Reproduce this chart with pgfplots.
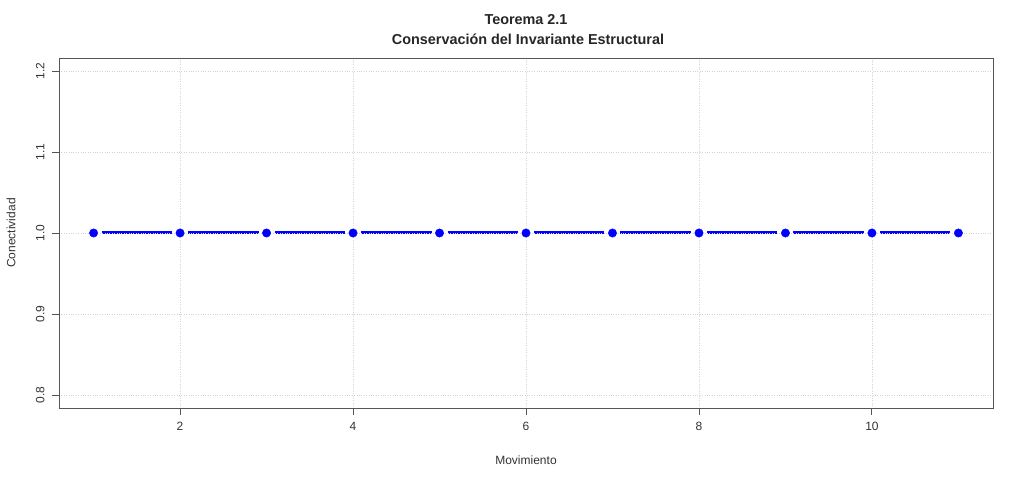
\documentclass[border=0pt]{standalone}
\usepackage{fontspec}
\setmainfont{Liberation Sans}
\usepackage{pgfplots}
\pgfplotsset{compat=1.18}
\definecolor{axgray}{HTML}{555555}
\definecolor{txtgray}{HTML}{333333}
\definecolor{gridgray}{HTML}{D3D3D3}
\begin{document}
\begin{tikzpicture}[x=1pt,y=1pt]
\path[use as bounding box] (0,0) rectangle (1024,481);
\begin{axis}[
  at={(59pt,73pt)}, anchor=south west,
  scale only axis, width=934pt, height=350pt,
  xmin=0.6, xmax=11.4, ymin=0.784, ymax=1.216,
  xtick={2,4,6,8,10}, ytick={0.8,0.9,1.0,1.1,1.2},
  yticklabels={0.8,0.9,1.0,1.1,1.2},
  tick align=outside, tick pos=left,
  major tick length=7pt,
  axis line style={axgray, line width=0.9pt},
  every tick/.style={axgray, line width=0.9pt},
  ticklabel style={font=\fontsize{12}{14}\selectfont, text=txtgray},
  yticklabel style={rotate=90, anchor=south, yshift=4pt},
  xticklabel style={yshift=-4pt},
  /pgf/number format/assume math mode=true,
  grid=major,
  grid style={dotted, gridgray, line width=0.7pt},
  axis on top=true,
  clip=false,
]
\pgfplotsinvokeforeach{1,...,10}{
\addplot[blue, line width=3pt, shorten <=8pt, shorten >=8pt, forget plot]
  coordinates {(#1,1) (#1+1,1)};
}
\addplot[only marks, mark=*, mark size=4.2pt,
  mark options={solid, fill=blue, draw=blue}]
  coordinates {(1,1) (2,1) (3,1) (4,1) (5,1) (6,1) (7,1) (8,1) (9,1) (10,1) (11,1)};
\end{axis}
\node[font=\bfseries\fontsize{14.4}{16}\selectfont, text=black!85] at (526,461) {Teorema 2.1};
\node[font=\bfseries\fontsize{14.4}{16}\selectfont, text=black!85] at (528,442) {Conservación del Invariante Estructural};
\node[font=\fontsize{12}{14}\selectfont, text=txtgray] at (526,21) {Movimiento};
\node[font=\fontsize{12}{14}\selectfont, text=txtgray, rotate=90] at (11,248) {Conectividad};
\end{tikzpicture}
\end{document}
